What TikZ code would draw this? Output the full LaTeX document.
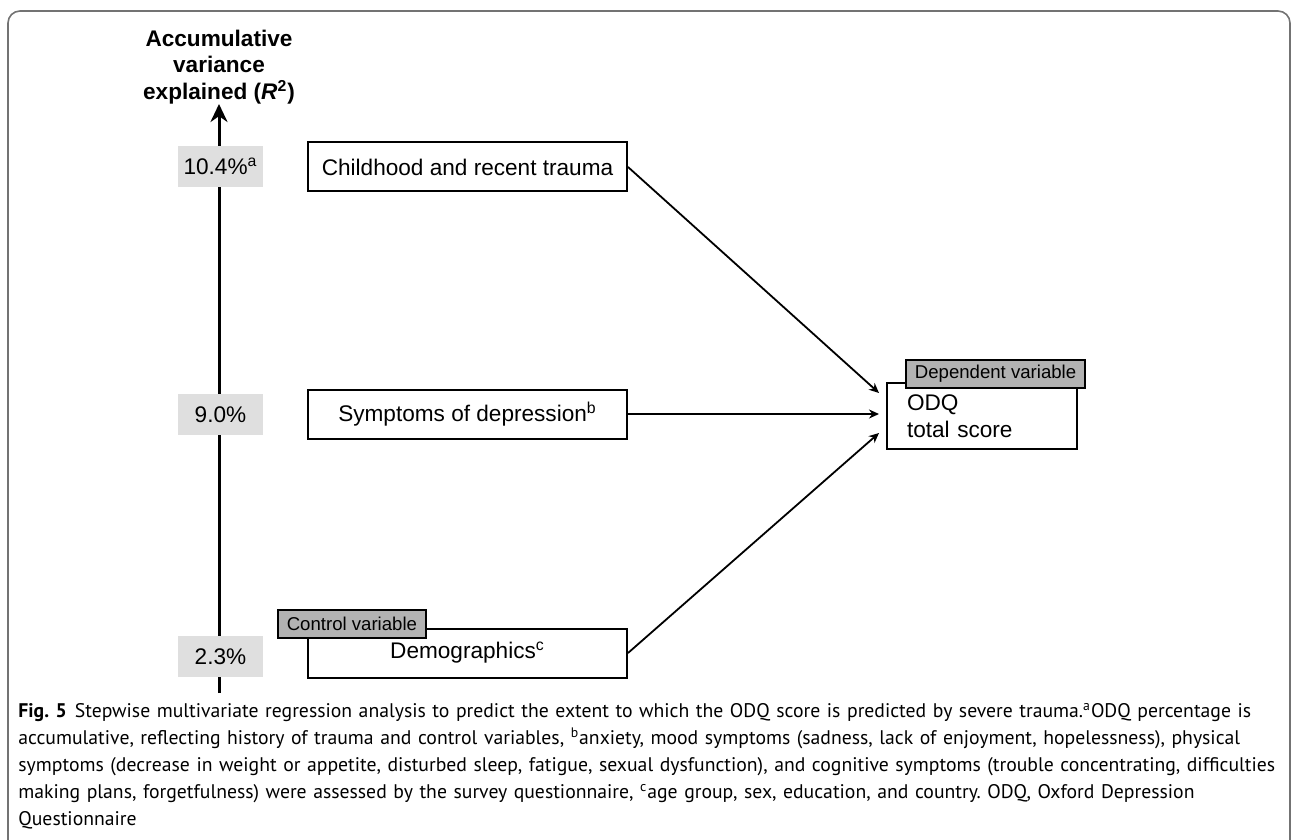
\documentclass[tikz,border=0pt]{standalone}
\usepackage{fontspec}
\setmainfont{Liberation Sans}
\newfontfamily\capfont{PT Sans}
\usetikzlibrary{arrows.meta,positioning}

\begin{document}
\begin{tikzpicture}[x=0.5pt,y=-0.5pt,>={Stealth[length=5pt,width=4.5pt]},
  font=\fontsize{11.3}{13.5}\selectfont,
  pct/.style={fill=gray!25,minimum width=42.5pt,minimum height=20.5pt,inner sep=0pt},
  factor/.style={draw,line width=1pt,minimum width=159.5pt,minimum height=24.5pt,inner sep=0pt},
  tag/.style={draw,line width=0.8pt,fill=gray!60,font=\fontsize{9.3}{11}\selectfont,
    minimum height=14pt,inner xsep=4.5pt,inner ysep=0pt},
  link/.style={->,line width=0.9pt}]
  \useasboundingbox (0,0) rectangle (1293,839);

  % Frame
  \draw[black!55,line width=0.8pt,rounded corners=6pt] (8,850) -- (8,11) -- (1290,11) -- (1290,850);

  % Axis
  \coordinate (axbot) at (219,693);
  \coordinate (axtop) at (219,104);
  \draw[-{Stealth[length=9pt,width=8.5pt]},line width=1.5pt] (axbot) -- (axtop);
  \node[font=\fontsize{11.3}{13.3}\selectfont\bfseries,align=center] (title) at (219,67)
    {Accumulative\\variance\\explained (\textit{R}\textsuperscript{2})};

  % Steps
  \node[pct] (p1) at (220.5,166.5) {10.4\%\textsuperscript{a}};
  \node[pct] (p2) at (220.5,414.5) {9.0\%};
  \node[pct] (p3) at (220.5,656.5) {2.3\%};
  \node[factor] (trauma) at (467.5,167) {Childhood and recent trauma};
  \node[factor] (symptoms) at (467.5,414) {Symptoms of depression\textsuperscript{b}};
  \node[factor] (demo) at (467.5,653) {Demographics\textsuperscript{c}};
  \node[tag,anchor=west] (control) at (277,624) {Control variable};

  % Outcome
  \node[draw,line width=1pt,align=left,text width=75pt,inner xsep=10pt,inner ysep=0pt,
    minimum height=33pt] (odq) at (982,416) {ODQ\\total score};
  \node[tag,anchor=east] (dependent) at (1086,374) {Dependent variable};

  % Links
  \draw[link] (trauma.east) -- ([xshift=-3.5pt,yshift=11.5pt]odq.west);
  \draw[link,shorten >=3.5pt] (symptoms.east) -- (symptoms.east -| odq.west);
  \draw[link] (demo.east) -- ([xshift=-3.5pt,yshift=-8.5pt]odq.west);

  % Caption
  \node[anchor=north west,inner sep=0pt,align=left,text width=645pt,
    font=\capfont\fontsize{9.85}{13.5}\selectfont\frenchspacing] (caption) at (18,703)
    {\textbf{Fig. 5}\hspace{4pt}Stepwise multivariate regression analysis to predict the extent to which the ODQ score is predicted by severe trauma.\textsuperscript{a}ODQ percentage is\\
     accumulative, reflecting history of trauma and control variables, \textsuperscript{b}anxiety, mood symptoms (sadness, lack of enjoyment, hopelessness), physical\\
     symptoms (decrease in weight or appetite, disturbed sleep, fatigue, sexual dysfunction), and cognitive symptoms (trouble concentrating, difficulties\\
     making plans, forgetfulness) were assessed by the survey questionnaire, \textsuperscript{c}age group, sex, education, and country. ODQ, Oxford Depression\\
     Questionnaire};
\end{tikzpicture}
\end{document}
